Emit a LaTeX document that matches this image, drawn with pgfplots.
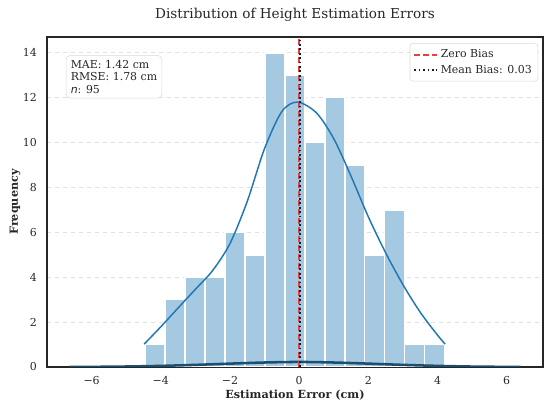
\documentclass[border=0pt]{standalone}
\usepackage{pgfplots}
\pgfplotsset{compat=1.18}
\usepackage{fontspec}
\setmainfont{DejaVu Serif}
\newfontfamily\dvsans{DejaVu Sans}
\definecolor{barblue}{HTML}{A6C9E2}
\definecolor{kdeblue}{HTML}{1F77B4}
\definecolor{darkblue}{HTML}{1B4F72}
\definecolor{zerored}{HTML}{E8413B}
\definecolor{navy}{HTML}{0B1F3F}
\definecolor{txt}{HTML}{262626}
\definecolor{gridc}{HTML}{E0E0E0}
\definecolor{boxc}{HTML}{D8D8D8}
\begin{document}
\begin{tikzpicture}
\useasboundingbox (0,0) rectangle (412.5pt,304.5pt);
\begin{axis}[
  at={(35.25pt,29.25pt)}, anchor=south west,
  scale only axis, width=372pt, height=247.5pt,
  xmin=-7.29, xmax=7.05, ymin=0, ymax=14.7,
  xtick={-6,-4,...,6}, xticklabels={−6,−4,−2,0,2,4,6},
  ytick={0,2,...,14},
  /pgf/number format/assume math mode=true,
  major tick length=0pt,
  tick label style={font=\fontsize{8.2}{9}\selectfont, text=txt},
  xticklabel style={anchor=base, yshift=-13.5pt, inner sep=0pt},
  yticklabel style={anchor=east, xshift=-7.5pt, inner sep=0pt},
  ymajorgrids, grid style={gridc, dashed, line width=0.6pt},
  axis line style={draw=txt, line width=0.9pt},
  title={Distribution of Height Estimation Errors},
  title style={at={(axis description cs:0.5,1)}, anchor=base, yshift=7.5pt, font=\fontsize{10.2}{12}\selectfont, text=txt},
  xlabel={Estimation Error (cm)},
  xlabel style={at={(axis description cs:0.5,0)}, anchor=base, yshift=-24pt, font=\bfseries\fontsize{8.4}{10}\selectfont, text=txt},
  ylabel={Frequency},
  ylabel style={at={(axis description cs:0,0.5)}, anchor=base, yshift=21.75pt, font=\bfseries\fontsize{8.4}{10}\selectfont, text=txt},
  legend style={at={(0.99,0.981)}, anchor=north east, draw=boxc, rounded corners=2pt, fill=white,
    font=\fontsize{8.2}{9}\selectfont, text=txt, inner sep=2.5pt, row sep=0pt},
  legend cell align=left,
]
% histogram (15 bins, counts)
\addplot[ybar interval, fill=barblue, draw=white, line width=1.2pt, forget plot] coordinates {
(-4.450,1) (-3.873,3) (-3.297,4) (-2.720,4) (-2.143,6) (-1.567,5) (-0.990,14) (-0.413,13)
(0.164,10) (0.740,12) (1.317,9) (1.894,5) (2.470,7) (3.047,1) (3.624,1) (4.200,1)};
% KDE scaled to counts
\addplot[kdeblue, line width=1.1pt, smooth, forget plot] coordinates {
(-4.48,1.02) (-4.0,1.79) (-3.5,2.63) (-3.0,3.46) (-2.5,4.30) (-2.0,5.50) (-1.5,7.38)
(-1.0,9.73) (-0.5,11.38) (-0.05,11.80) (0.5,11.32) (1.0,10.17) (1.5,8.50) (2.0,6.69)
(2.5,5.09) (3.0,3.67) (3.5,2.44) (4.0,1.42) (4.22,1.02)};
% density curve
\addplot[darkblue, line width=1.9pt, smooth, forget plot] coordinates {
(-6.64,0.003) (-6.0,0.007) (-5.0,0.022) (-4.0,0.05) (-3.0,0.095) (-2.0,0.15) (-1.0,0.2)
(0.0,0.225) (1.0,0.2) (2.0,0.15) (3.0,0.095) (4.0,0.05) (5.0,0.02) (6.0,0.006) (6.40,0.003)};
\addplot[zerored, line width=1.5pt, dash pattern=on 4.5pt off 2.2pt] coordinates {(0,0) (0,14.7)};
\addlegendentry{Zero Bias}
\addplot[navy, line width=1.3pt, dash pattern=on 1.3pt off 2pt] coordinates {(0.03,0) (0.03,14.7)};
\addlegendentry{Mean Bias: 0.03}
\node[anchor=north west, draw=boxc, rounded corners=3pt, fill=white, align=left, text=txt,
  font=\fontsize{8.2}{9.4}\selectfont, inner sep=3.5pt] at (axis description cs:0.038,0.945)
  {MAE: 1.42 cm\\RMSE: 1.78 cm\\{\dvsans\itshape n}: 95};
\end{axis}
\end{tikzpicture}
\end{document}
